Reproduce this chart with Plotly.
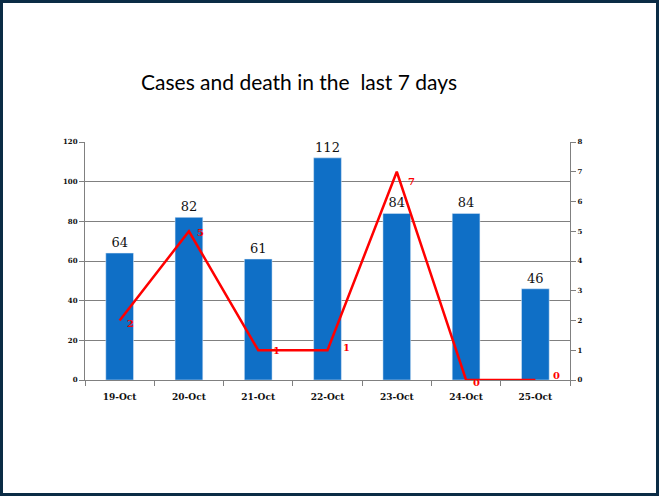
import plotly.graph_objects as go

days = ["19-Oct", "20-Oct", "21-Oct", "22-Oct", "23-Oct", "24-Oct", "25-Oct"]
cases = [64, 82, 61, 112, 84, 84, 46]
deaths = [2, 5, 1, 1, 7, 0, 0]

# label nudges for the deaths labels (pixels), as placed in the original
death_label_shift = [(11, -3), (12, -1), (18, 0), (19, 3), (15, -10), (10, -2), (21, 5)]

W, H = 659, 496
L, R, T, B = 85, 89, 142, 116
PW, PH = W - L - R, H - T - B

SERIF = "DejaVu Serif"
AXIS = "#808080"

fig = go.Figure()
fig.add_trace(go.Bar(
    x=days, y=cases, width=0.4,
    marker_color="#0f6fc6",
    text=[str(c) for c in cases], textposition="outside",
    textfont=dict(family=SERIF, size=13, color="#111111"),
    cliponaxis=False,
    name="Cases",
))
fig.add_trace(go.Scatter(
    x=days, y=deaths, yaxis="y2",
    mode="lines",
    line=dict(color="#ff0000", width=2.5),
    cliponaxis=False,
    name="Deaths",
))

for d, v, (dx, dy) in zip(days, deaths, death_label_shift):
    fig.add_annotation(
        x=d, y=v, xref="x", yref="y2", text=str(v), showarrow=False,
        xshift=dx, yshift=dy,
        font=dict(family=SERIF, size=10, color="#ff0000", weight="bold"),
    )

fig.update_layout(
    width=W, height=H,
    margin=dict(l=L, r=R, t=T, b=B),
    paper_bgcolor="white", plot_bgcolor="white",
    showlegend=False,
    title=dict(
        text="Cases and death in the  last 7 days",
        x=299 / W, xanchor="center", y=1 - 83 / H, yanchor="middle",
        font=dict(family="Lato", size=21, color="#000000"),
    ),
    xaxis=dict(
        type="category", tickson="boundaries",
        showline=True, linecolor=AXIS, linewidth=1,
        ticks="outside", tickcolor=AXIS, ticklen=5,
        ticklabelstandoff=8,
        tickfont=dict(family=SERIF, size=9, color="#111111", weight="bold"),
        showgrid=False,
    ),
    yaxis=dict(
        range=[0, 120], dtick=20,
        showline=True, linecolor=AXIS, linewidth=1,
        ticks="outside", tickcolor=AXIS, ticklen=5,
        gridcolor=AXIS, gridwidth=1,
        tickfont=dict(family=SERIF, size=7, color="#111111", weight="bold"),
        zeroline=False,
    ),
    yaxis2=dict(
        range=[0, 8], dtick=1, overlaying="y", side="right",
        showline=True, linecolor=AXIS, linewidth=1,
        ticks="outside", tickcolor=AXIS, ticklen=5,
        showgrid=False, zeroline=False,
        tickfont=dict(family=SERIF, size=7, color="#111111", weight="bold"),
    ),
    shapes=[dict(
        type="rect", xref="paper", yref="paper",
        x0=(1.5 - L) / PW, x1=(W - 1.5 - L) / PW,
        y0=-(H - 1.5 - T - PH) / PH, y1=(PH + T - 1.5) / PH,
        line=dict(color="#0b2c45", width=3),
        layer="above",
    )],
)

fig.write_html(
    "out.html",
    config={"displayModeBar": False},
    post_script="document.body.style.margin='0';",
)
